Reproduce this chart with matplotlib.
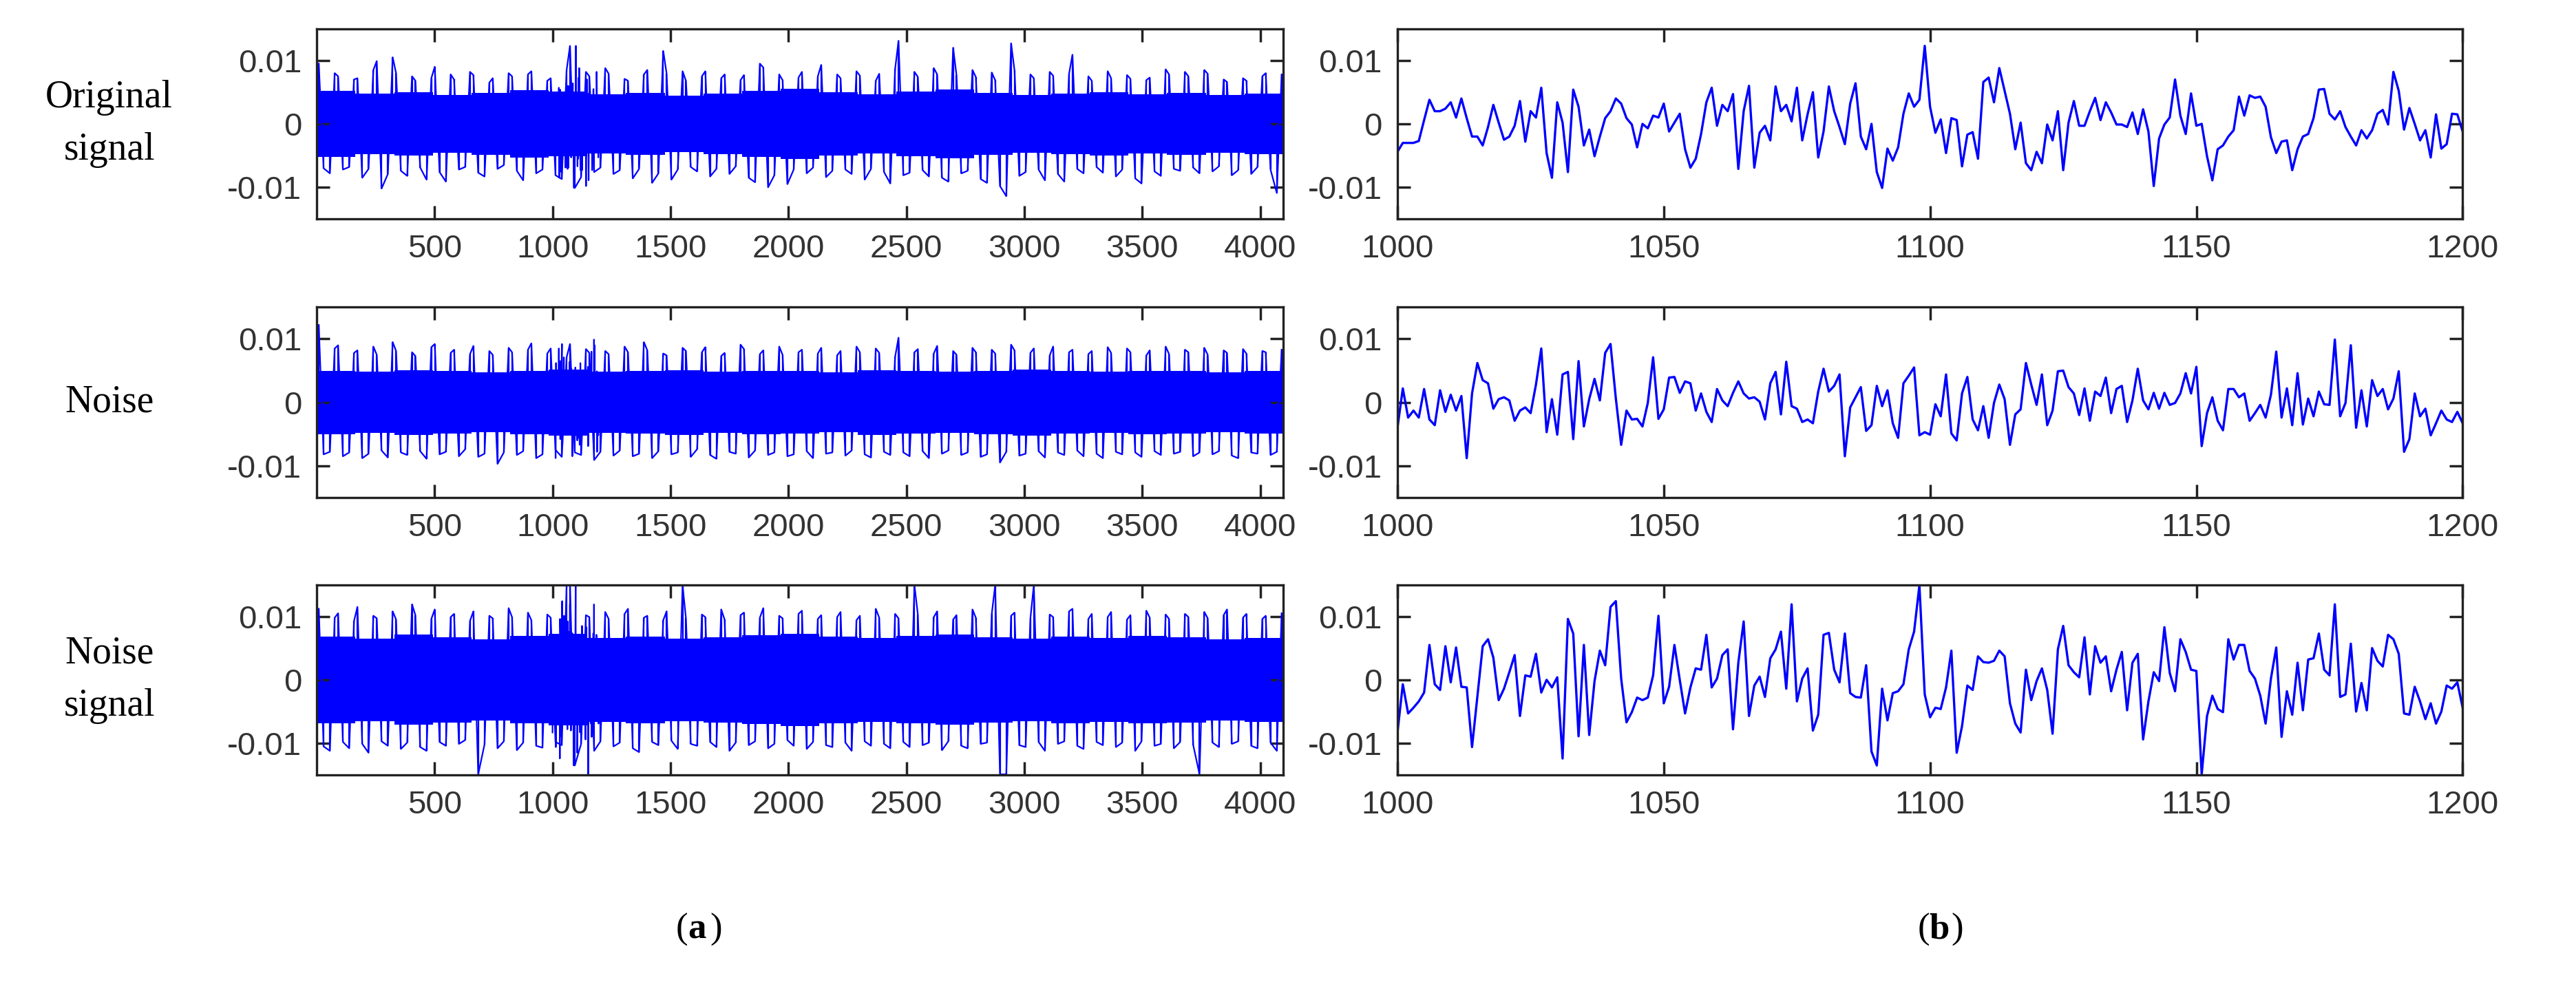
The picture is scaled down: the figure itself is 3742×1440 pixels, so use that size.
import numpy as np
import matplotlib
matplotlib.use("Agg")
import matplotlib.pyplot as plt

# ---------------- data ----------------
zoom_index = list(range(1000, 1201))
orig_zoom = [-0.0044,-0.003,-0.003,-0.003,-0.0027,0.0006,0.0038,0.002,0.002,0.0024,
0.0034,0.001,0.004,0.0009,-0.002,-0.002,-0.0034,-0.0005,0.003,0.0002,
-0.0025,-0.002,-0.0003,0.0036,-0.0028,0.002,0.001,0.0057,-0.0046,-0.0085,
0.0034,0.0002,-0.0076,0.0054,0.0027,-0.0034,-0.0009,-0.0051,-0.002,0.0009,
0.002,0.004,0.0032,0.0009,-0.0001,-0.0037,0.0,-0.0007,0.0013,0.001,
0.0032,-0.0012,0.0002,0.0016,-0.004,-0.0069,-0.0055,-0.0016,0.0034,0.0057,
-0.0003,0.003,0.002,0.0047,-0.0071,0.002,0.006,-0.0069,-0.0014,-0.0003,
-0.0026,0.0059,0.002,0.003,0.0004,0.0057,-0.0026,0.0015,0.005,-0.0053,
-0.0012,0.0059,0.002,-0.0005,-0.0032,0.0032,0.0064,-0.002,-0.004,0.0,
-0.0076,-0.0101,-0.0039,-0.0058,-0.0037,0.0016,0.0048,0.0027,0.0038,0.0123,
0.0027,-0.0014,0.0007,-0.0046,0.0009,0.0006,-0.0067,-0.0017,-0.0013,-0.0055,
0.0066,0.0073,0.0034,0.0088,0.0052,0.0016,-0.004,0.0002,-0.0062,-0.0073,
-0.0044,-0.0062,-0.0001,-0.0026,0.002,-0.0073,0.0002,0.0036,-0.0003,-0.0003,
0.002,0.0041,0.0006,0.0034,0.0018,-0.0001,-0.0001,-0.0005,0.0018,-0.0016,
0.0023,-0.0012,-0.0098,-0.0023,-0.0001,0.001,0.007,0.0013,-0.0016,0.0048,
-0.0003,0.0,-0.0051,-0.0089,-0.004,-0.0034,-0.002,-0.001,0.0043,0.0013,
0.0045,0.0041,0.0043,0.0027,-0.0021,-0.0046,-0.0028,-0.0026,-0.0073,-0.004,
-0.002,-0.0016,0.0009,0.0054,0.0055,0.0016,0.0007,0.002,-0.0005,-0.002,
-0.0034,-0.001,-0.0023,-0.001,0.0016,0.0022,-0.0001,0.0082,0.0052,-0.0009,
0.0025,0.0,-0.0026,-0.001,-0.0053,0.0015,-0.0039,-0.0032,0.0016,0.0015,-0.0012]
noise_zoom = [-0.004,0.0022,-0.0024,-0.0013,-0.0024,0.0021,-0.0027,-0.0036,0.0019,-0.0015,
0.0012,-0.0013,0.001,-0.0088,0.0014,0.0062,0.0035,0.003,-0.001,0.0005,
0.0008,0.0003,-0.0029,-0.0013,-0.0008,-0.0017,0.0028,0.0085,-0.0047,0.0005,
-0.0051,0.0044,0.0048,-0.0058,0.0065,-0.0038,0.0005,0.0037,0.0003,0.0078,
0.0092,0.0006,-0.0067,-0.0013,-0.0027,-0.0026,-0.0038,-0.0001,0.0071,-0.0026,
-0.0011,0.0039,0.004,0.0015,0.0033,0.003,-0.0013,0.0014,-0.0015,-0.0031,
0.0021,0.0003,-0.0006,0.0015,0.0033,0.0014,0.0006,0.0008,0.0001,-0.0027,
0.003,0.0048,-0.0019,0.0064,-0.0006,-0.001,-0.0031,-0.0027,-0.0033,0.0017,
0.0053,0.0017,0.0026,0.0044,-0.0085,-0.0008,0.0008,0.0024,-0.0045,-0.0036,
0.0026,-0.0006,0.0019,-0.0033,-0.0056,0.003,0.0042,0.0055,-0.0052,-0.0047,
-0.0051,-0.0003,-0.0022,0.0044,-0.0049,-0.006,0.0014,0.004,-0.0027,-0.0044,
-0.0006,-0.0056,-0.0001,0.0028,0.0005,-0.0067,-0.0019,-0.0011,0.0062,0.0028,
-0.0004,0.0044,-0.0036,-0.0013,0.0049,0.005,0.0024,0.0014,-0.002,0.0022,
-0.0029,0.0017,0.001,0.0039,-0.0017,0.0021,0.0026,-0.0031,0.0003,0.0053,
0.0003,-0.0011,0.0015,-0.001,0.0015,-0.0004,-0.0001,0.0014,0.0046,0.0014,
0.0056,-0.0069,-0.0017,0.0008,-0.0029,-0.0044,0.0021,0.0021,0.0008,0.0014,
-0.0029,-0.0017,-0.0004,-0.0024,0.0012,0.008,-0.0024,0.0022,-0.0036,0.0046,
-0.0035,0.0006,-0.0022,0.0017,-0.0003,-0.0004,0.0099,-0.0022,-0.0001,0.009,
-0.004,0.0019,-0.0038,0.0035,0.001,0.0021,-0.0011,0.0006,0.0049,-0.0078,
-0.0058,0.0014,-0.0022,-0.001,-0.0052,-0.0033,-0.0013,-0.0027,-0.0031,-0.0015,-0.0033]
noisy_zoom = [-0.0083,-0.0007,-0.0053,-0.0044,-0.0034,-0.002,0.0055,-0.0007,-0.0016,0.0053,
-0.0004,0.0051,-0.0011,-0.0012,-0.0106,-0.0027,0.0053,0.0064,0.0035,-0.0032,
-0.0014,0.0012,0.0039,-0.0057,0.0007,0.0005,0.0041,-0.002,0.0,-0.0012,
0.0004,-0.0124,0.0096,0.0073,-0.0089,0.0055,-0.0087,-0.0002,0.0046,0.0023,
0.0115,0.0124,0.0002,-0.0067,-0.0051,-0.0028,-0.0032,-0.0028,0.0007,0.0101,
-0.0037,-0.0011,0.0055,0.0,-0.0053,-0.0012,0.0018,0.0016,0.0071,-0.0012,
0.0002,0.0039,0.0048,-0.0078,0.0027,0.0092,-0.0057,-0.0009,0.0005,-0.0027,
0.0034,0.0048,0.0076,-0.0014,0.0119,-0.0034,0.0002,0.0018,-0.008,-0.0055,
0.0071,0.0074,0.0016,-0.0004,0.0073,-0.0021,-0.0027,-0.0028,0.0023,-0.0113,
-0.0135,-0.0014,-0.0064,-0.0021,-0.0018,-0.0007,0.0048,0.0076,0.0149,-0.0023,
-0.0059,-0.0044,-0.0046,-0.0012,0.0046,-0.0115,-0.0073,-0.0009,-0.0016,0.0037,
0.0028,0.0027,0.003,0.0046,0.0037,-0.0037,-0.0069,-0.0083,0.0016,-0.0032,
-0.0002,0.0018,-0.0016,-0.0085,0.0048,0.0085,0.0023,0.0012,0.0004,0.0067,
-0.0023,0.0053,0.0027,0.0037,-0.0018,0.0016,0.0044,-0.0048,0.0027,0.0041,
-0.0094,-0.0034,0.0012,-0.0002,0.0083,0.0011,-0.0018,0.0064,0.0044,0.0016,
0.0014,-0.0149,-0.0057,-0.0025,-0.0046,-0.0051,0.0064,0.0032,0.0055,0.0055,
0.0014,0.0002,-0.0025,-0.0069,0.0002,0.0051,-0.009,-0.0018,-0.0055,0.0027,
-0.0048,0.0032,0.0034,0.0073,0.0016,0.0007,0.0119,-0.0027,-0.0023,0.0057,
-0.005,-0.0005,-0.0048,0.005,0.003,0.0021,0.0071,0.0064,0.0041,-0.0053,
-0.0055,-0.0011,-0.0034,-0.0062,-0.0037,-0.0069,-0.005,-0.0009,-0.0014,-0.0004,-0.0044]

# full-length signals (1..4096): per-bin extremes
orig_up = [0.0095,0.008,0.0075,0.007,0.0072,0.0085,0.0099,0.0105,0.008,0.0075,
0.0068,0.0072,0.009,0.0078,0.007,0.0082,0.0077,0.0065,0.0072,0.008,
0.0075,0.0078,0.0083,0.0068,0.0072,0.0085,0.0123,0.0082,0.0075,0.0088,
0.0079,0.0071,0.0068,0.0078,0.0085,0.0115,0.0079,0.0083,0.0068,0.0075,
0.0083,0.0072,0.0078,0.0069,0.0077,0.0095,0.0089,0.0078,0.0069,0.0073,
0.0082,0.0075,0.0093,0.0078,0.0072,0.0083,0.0076,0.0068,0.0079,0.0087,
0.0131,0.0082,0.0074,0.0088,0.0078,0.012,0.0077,0.0085,0.0074,0.0081,
0.0069,0.0127,0.0085,0.0078,0.0072,0.0082,0.0076,0.0079,0.0109,0.0075,
0.0068,0.0083,0.0072,0.0077,0.0071,0.0069,0.0073,0.0086,0.0078,0.0082,
0.0075,0.0085,0.0079,0.007,0.0066,0.0072,0.0068,0.0075,0.008,0.0078]
orig_lo = [-0.007,-0.0078,-0.0072,-0.0068,-0.0085,-0.0071,-0.0102,-0.0079,-0.0074,-0.0082,
-0.0069,-0.0088,-0.0076,-0.0091,-0.0072,-0.0068,-0.0077,-0.0083,-0.0071,-0.0065,
-0.0074,-0.0089,-0.0078,-0.0072,-0.0081,-0.0087,-0.0101,-0.0084,-0.0076,-0.0069,
-0.0079,-0.0073,-0.0086,-0.0071,-0.0093,-0.0078,-0.0088,-0.0072,-0.0068,-0.0075,
-0.0083,-0.0071,-0.0079,-0.0067,-0.0085,-0.0092,-0.01,-0.0081,-0.0095,-0.0072,
-0.0078,-0.0069,-0.0084,-0.0074,-0.0072,-0.0079,-0.0088,-0.0071,-0.0076,-0.0094,
-0.0081,-0.0077,-0.0073,-0.0083,-0.0085,-0.0091,-0.0078,-0.0074,-0.0087,-0.0093,
-0.0098,-0.0114,-0.0082,-0.0076,-0.0072,-0.0089,-0.0079,-0.0091,-0.0071,-0.0078,
-0.0068,-0.0077,-0.0083,-0.0072,-0.0086,-0.0094,-0.0075,-0.0082,-0.0071,-0.0074,
-0.0069,-0.0078,-0.0075,-0.0067,-0.0081,-0.0073,-0.0079,-0.0068,-0.0072,-0.0109]
noise_up = [0.0122,0.0085,0.009,0.0078,0.0082,0.0088,0.0075,0.0095,0.0081,0.0079,
0.0073,0.0087,0.0092,0.0078,0.0083,0.0076,0.0089,0.0081,0.0075,0.0086,
0.0079,0.0083,0.0093,0.0077,0.0085,0.0071,0.0092,0.0084,0.0078,0.0081,
0.0076,0.0088,0.0079,0.0095,0.0082,0.0077,0.0074,0.0086,0.0081,0.0079,
0.0087,0.0073,0.0078,0.0091,0.0084,0.0076,0.0082,0.0088,0.0075,0.0079,
0.0083,0.0077,0.0086,0.0074,0.0081,0.0088,0.0079,0.0085,0.0078,0.0072,
0.0102,0.0079,0.0084,0.0077,0.0089,0.0081,0.0075,0.0086,0.0079,0.0083,
0.0077,0.0091,0.0082,0.0078,0.0085,0.0074,0.0088,0.0079,0.0083,0.0076,
0.0081,0.0087,0.0078,0.0085,0.0079,0.0074,0.0082,0.0088,0.0076,0.0083,
0.0079,0.0086,0.0075,0.0082,0.0078,0.0084,0.0077,0.0081,0.0079,0.0083]
noise_lo = [-0.0082,-0.0078,-0.0085,-0.0079,-0.0088,-0.0081,-0.0076,-0.0087,-0.0079,-0.0083,
-0.0077,-0.0089,-0.0082,-0.0078,-0.0085,-0.0074,-0.0086,-0.0081,-0.0097,-0.0079,
-0.0083,-0.0077,-0.0088,-0.0082,-0.0075,-0.0086,-0.0079,-0.0083,-0.0091,-0.0078,
-0.0084,-0.0076,-0.0085,-0.0081,-0.0088,-0.0077,-0.0082,-0.0079,-0.0086,-0.0074,
-0.0083,-0.0089,-0.0078,-0.0081,-0.0087,-0.0076,-0.0083,-0.0079,-0.0085,-0.0082,
-0.0077,-0.0088,-0.0081,-0.0079,-0.0084,-0.0076,-0.0082,-0.0087,-0.0078,-0.0083,
-0.0079,-0.0085,-0.0077,-0.0088,-0.0081,-0.0076,-0.0083,-0.0079,-0.0086,-0.0082,
-0.0095,-0.0078,-0.0084,-0.0081,-0.0077,-0.0087,-0.0079,-0.0083,-0.0076,-0.0085,
-0.0081,-0.0088,-0.0078,-0.0082,-0.0079,-0.0086,-0.0077,-0.0083,-0.0081,-0.0078,
-0.0085,-0.0079,-0.0082,-0.0077,-0.0084,-0.0088,-0.0079,-0.0081,-0.0083,-0.0078]
noisy_up = [0.0112,0.0098,0.0105,0.0093,0.0115,0.0101,0.0097,0.0108,0.0095,0.0119,
0.0102,0.0096,0.0111,0.0099,0.0104,0.0093,0.0108,0.0101,0.0097,0.0113,
0.0099,0.0106,0.0094,0.0103,0.0098,0.0149,0.0149,0.0102,0.0099,0.0107,
0.0096,0.0104,0.0112,0.0098,0.0101,0.0094,0.0108,0.0149,0.0097,0.0103,
0.0099,0.0111,0.0095,0.0102,0.0106,0.0098,0.0113,0.0101,0.0097,0.0104,
0.0109,0.0096,0.0102,0.0099,0.0107,0.0094,0.0101,0.0112,0.0098,0.0104,
0.0097,0.0149,0.0103,0.0099,0.0108,0.0095,0.0102,0.0111,0.0098,0.0104,
0.0149,0.0101,0.0106,0.0097,0.0149,0.0103,0.0099,0.0108,0.0112,0.0096,
0.0104,0.0099,0.0107,0.0095,0.0102,0.0109,0.0098,0.0103,0.0096,0.0104,
0.0099,0.0107,0.0097,0.0102,0.0111,0.0098,0.0104,0.0096,0.0101,0.0105]
noisy_lo = [-0.0105,-0.0112,-0.0098,-0.0108,-0.0101,-0.0115,-0.0097,-0.0104,-0.0109,-0.0099,
-0.0106,-0.0112,-0.0098,-0.0104,-0.0101,-0.0095,-0.0149,-0.0102,-0.0108,-0.0097,
-0.0111,-0.0099,-0.0104,-0.0107,-0.0098,-0.0103,-0.0135,-0.0101,-0.0112,-0.0097,
-0.0105,-0.0099,-0.0108,-0.0114,-0.0098,-0.0103,-0.0096,-0.0109,-0.0101,-0.0104,
-0.0098,-0.0106,-0.0112,-0.0099,-0.0103,-0.0097,-0.0108,-0.0101,-0.0095,-0.0104,
-0.0109,-0.0098,-0.0103,-0.0106,-0.0099,-0.0112,-0.0097,-0.0104,-0.0101,-0.0108,
-0.0098,-0.0106,-0.0103,-0.0099,-0.0111,-0.0097,-0.0104,-0.0108,-0.0101,-0.0099,
-0.0149,-0.0149,-0.0103,-0.0106,-0.0098,-0.0112,-0.0101,-0.0097,-0.0104,-0.0109,
-0.0098,-0.0103,-0.0106,-0.0099,-0.0112,-0.0097,-0.0104,-0.0101,-0.0108,-0.0098,
-0.0103,-0.0149,-0.0099,-0.0106,-0.0101,-0.0097,-0.0104,-0.0108,-0.0099,-0.0112]
# half-height of the solid dense band, 25 bins
orig_core = [0.0052,0.0048,0.005,0.0046,0.0049,0.0053,0.0051,0.0047,0.0049,0.0045,
0.0048,0.0052,0.0055,0.005,0.0047,0.0051,0.0054,0.0049,0.0046,0.0048,
0.005,0.0047,0.0049,0.0046,0.0048]
noise_core = [0.005,0.0048,0.0051,0.0049,0.0047,0.005,0.0052,0.0048,0.0049,0.0051,
0.0048,0.005,0.0049,0.0047,0.0051,0.0049,0.0048,0.005,0.0052,0.0049,
0.0048,0.005,0.0049,0.0047,0.0049]
noisy_core = [0.0068,0.0065,0.0071,0.0067,0.0064,0.0069,0.0072,0.0066,0.0068,0.0065,
0.0067,0.007,0.0073,0.0068,0.0066,0.0069,0.0071,0.0067,0.0065,0.0068,
0.0066,0.0069,0.0067,0.0064,0.0066]

row_labels = ["Original\nsignal", "Noise", "Noise\nsignal"]
left_xticks = [500, 1000, 1500, 2000, 2500, 3000, 3500, 4000]
right_xticks = [1000, 1050, 1100, 1150, 1200]
yticks = [-0.01, 0, 0.01]
ytick_labels = ["-0.01", "0", "0.01"]
n_samples = 4096

# ---------------- plotting ----------------
fig = plt.figure(figsize=(37.42, 14.40), dpi=100)
tick_family = ["Liberation Sans", "DejaVu Sans"]
blue = "#0000ff"

rows = [(orig_up, orig_lo, orig_core, orig_zoom),
        (noise_up, noise_lo, noise_core, noise_zoom),
        (noisy_up, noisy_lo, noisy_core, noisy_zoom)]
bottoms = [0.779, 0.498, 0.218]
h = 0.192

def style(ax):
    ax.set_ylim(-0.015, 0.015)
    ax.set_yticks(yticks)
    ax.set_yticklabels(ytick_labels)
    ax.tick_params(direction="in", top=True, right=True, length=14, width=2.5,
                   pad=16, labelcolor="#333333", color="#222222")
    for lab in ax.get_xticklabels() + ax.get_yticklabels():
        lab.set_fontfamily(tick_family)
        lab.set_fontsize(34)
    for s in ax.spines.values():
        s.set_linewidth(2.4)
        s.set_color("#222222")

for k, (up, lo, core, zm) in enumerate(rows):
    axl = fig.add_axes([0.123, bottoms[k], 0.375, h])
    # dense band
    nc = len(core)
    cstep = n_samples / nc
    cx = [1 + i * cstep for i in range(nc)] + [n_samples]
    cv = core + [core[-1]]
    axl.fill_between(cx, [-v for v in cv], cv, step="post", color=blue, lw=0)
    # spikes: zigzag strokes between per-bin extremes
    nb = len(up)
    step = n_samples / nb
    xs, ys = [], []
    for i in range(nb):
        if i % 2 == 0:
            xs += [1 + i * step + step * 0.2, 1 + i * step + step * 0.7]
            ys += [up[i], lo[i]]
        else:
            xs += [1 + i * step + step * 0.35, 1 + i * step + step * 0.85]
            ys += [lo[i], up[i]]
    axl.plot(xs, ys, color=blue, lw=1.6)
    axl.vlines(xs, 0, ys, color=blue, lw=1.6)
    # segment 1000..1200 drawn from the zoomed readings
    axl.plot(zoom_index, zm, color=blue, lw=1.6)
    axl.set_xlim(1, n_samples)
    axl.set_xticks(left_xticks)
    style(axl)
    axl.text(-0.215, 0.5, row_labels[k], transform=axl.transAxes, ha="center", va="center",
             fontsize=40, family=["Liberation Serif", "DejaVu Serif"], linespacing=1.6)

    axr = fig.add_axes([0.5425, bottoms[k], 0.4135, h])
    axr.plot(zoom_index, zm, color=blue, lw=2.4)
    axr.set_xlim(1000, 1200)
    axr.set_xticks(right_xticks)
    style(axr)

serif = ["Liberation Serif", "DejaVu Serif"]
for xc, letter in [(0.267, "a"), (0.749, "b")]:
    t = fig.text(xc, 0.062, "(", ha="right", va="center", fontsize=38, family=serif)
    fig.text(xc, 0.062, letter, ha="left", va="center", fontsize=38, family=serif, weight="bold")
    fig.text(xc + 0.0085, 0.062, ")", ha="left", va="center", fontsize=38, family=serif)

fig.savefig("out.png", dpi=100, facecolor="white")
